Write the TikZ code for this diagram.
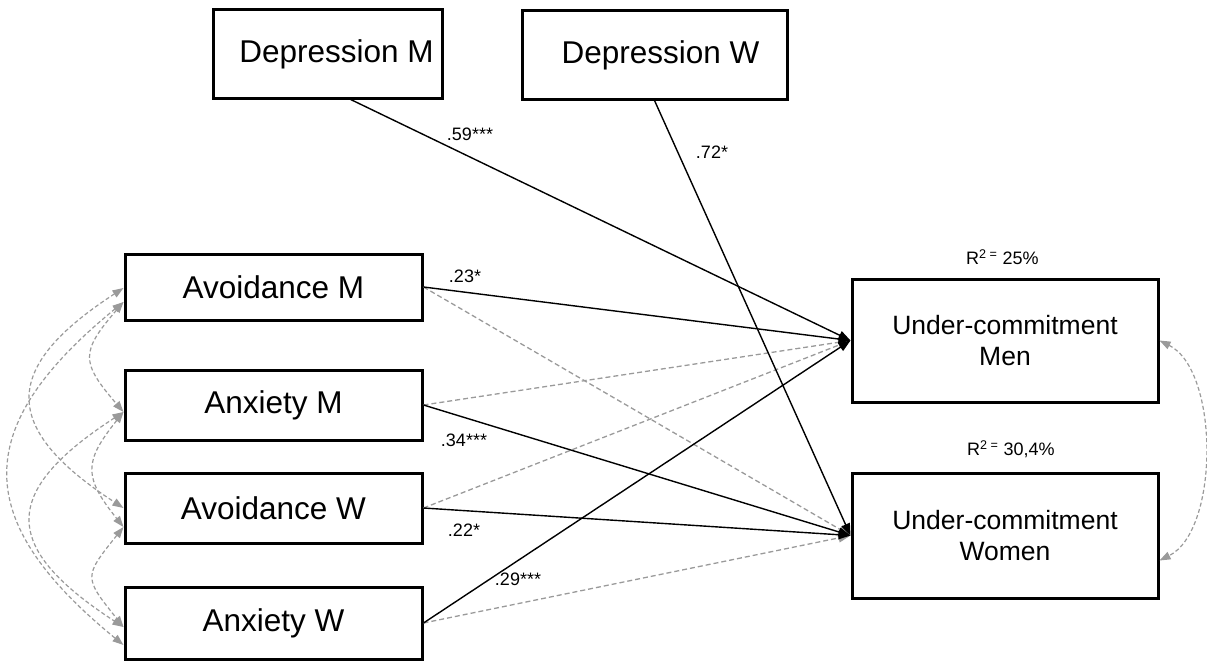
\documentclass[tikz,border=0pt]{standalone}
\usepackage{fontspec}
\setmainfont{Liberation Sans}
\usetikzlibrary{arrows.meta,calc}
\definecolor{nsgray}{HTML}{9A9A9A}
\begin{document}
\begin{tikzpicture}[x=1pt,y=-1pt,
  box/.style={draw=black, line width=3pt, rectangle, inner sep=0pt, align=center},
  bigtxt/.style={font=\fontsize{31.5}{37}\selectfont},
  outtxt/.style={font=\fontsize{26.5}{31}\selectfont},
  sigpath/.style={draw=black, line width=1.4pt, -{Triangle[length=12pt,width=9pt]}},
  nspath/.style={draw=nsgray, line width=1.3pt, dash pattern=on 5pt off 3pt, -{Triangle[length=12pt,width=9pt,fill=nsgray]}},
  cov/.style={draw=nsgray, line width=1.2pt, dash pattern=on 4pt off 2.5pt, {Triangle[length=11pt,width=8pt,fill=nsgray]}-{Triangle[length=11pt,width=8pt,fill=nsgray]}},
  lab/.style={font=\fontsize{18}{20}\selectfont, inner sep=0pt}
]
\useasboundingbox (0,0) rectangle (1207,661);

% boxes
\node[box, bigtxt, minimum width=229pt, minimum height=88pt] (depm) at (327.5,54) {\hspace*{18pt}Depression M};
\node[box, bigtxt, minimum width=265pt, minimum height=88pt] (depw) at (654.5,55) {\hspace*{12pt}Depression W};
\node[box, bigtxt, minimum width=297pt, minimum height=66pt] (avm) at (273.5,287) {Avoidance M};
\node[box, bigtxt, minimum width=297pt, minimum height=70pt] (anxm) at (273.5,405) {Anxiety M};
\node[box, bigtxt, minimum width=297pt, minimum height=70pt] (avw) at (273.5,508) {Avoidance W};
\node[box, bigtxt, minimum width=297pt, minimum height=72pt] (anxw) at (273.5,623) {Anxiety W};
\node[box, outtxt, minimum width=306pt, minimum height=123pt] (men) at (1005,340.5) {Under-commitment\\Men};
\node[box, outtxt, minimum width=306pt, minimum height=125pt] (women) at (1005,535.5) {Under-commitment\\Women};

% non-significant paths
\draw[nspath] (avm.east) -- (women.west);
\draw[nspath] (anxm.east) -- (men.west);
\draw[nspath] (avw.east) -- (men.west);
\draw[nspath] (anxw.east) -- (women.west);

% significant paths
\coordinate (dmstart) at ($(depm.south west)!0.6!(depm.south east)$);
\draw[sigpath] (dmstart) -- (men.west);
\draw[sigpath] (depw.south) -- (women.west);
\draw[sigpath] (avm.east) -- (men.west);
\draw[sigpath] (anxm.east) -- (women.west);
\draw[sigpath] (avw.east) -- (women.west);
\draw[sigpath] (anxw.east) -- (men.west);

% covariances (left)
\draw[cov] ($(avm.west)+(0,15)$) .. controls +(-43,50) and +(-43,-50) .. ($(anxm.west)+(0,7)$);
\draw[cov] ($(anxm.west)+(0,7)$) .. controls +(-40,50) and +(-40,-50) .. ($(avw.west)+(0,19)$);
\draw[cov] ($(avw.west)+(0,19)$) .. controls +(-40,50) and +(-40,-50) .. ($(anxw.west)+(0,4)$);
\draw[cov] ($(avm.west)+(0,1)$) .. controls +(-123,80) and +(-123,-80) .. ($(avw.west)+(0,0)$);
\draw[cov] ($(anxm.west)+(0,7)$) .. controls +(-123,80) and +(-123,-80) .. ($(anxw.west)+(0,4)$);
\draw[cov] ($(avm.west)+(0,15)$) .. controls +(-153,125) and +(-153,-125) .. ($(anxw.west)+(0,22)$);

% covariance (right)
\draw[cov] (men.east) .. controls +(60,30) and +(60,-30) .. ($(women.east)+(0,25)$);

% labels
\node[lab] (l59) at (470,134) {.59***};
\node[lab] (l72) at (712,152) {.72*};
\node[lab] (l23) at (465,276) {.23*};
\node[lab] (l34) at (464,440) {.34***};
\node[lab] (l22) at (464,530) {.22*};
\node[lab] (l29) at (518,579) {.29***};
\node[lab, anchor=west] (r1) at (966,257) {R\textsuperscript{2 =} 25\%};
\node[lab, anchor=west] (r2) at (967,449) {R\textsuperscript{2 =} 30,4\%};
\end{tikzpicture}
\end{document}
